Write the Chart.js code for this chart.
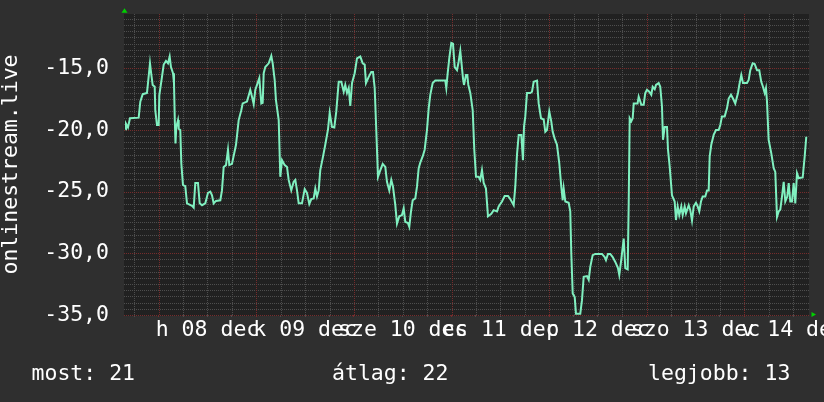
<!DOCTYPE html>
<html><head><meta charset="utf-8">
<script src="https://cdn.jsdelivr.net/npm/chart.js@4"></script>
<style>html,body{margin:0;padding:0;background:#2f2f2f;overflow:hidden}canvas{display:block}</style>
</head><body>
<canvas id="c" width="824" height="402"></canvas>
<script>
// hours relative to Mon 08 Dec 00:00
const hours = [
-8.21,-8.04,-7.55,-7.06,-4.92,-4.52,-3.93,-2.88,-2.63,-2.14,-1.82,-1.48,-0.98,-0.84,-0.42,0,0.15,0.81,1.23,1.79,2.29,2.70,3.02,3.52,3.76,3.96,4.13,4.33,4.75,4.92,5.31,5.56,5.97,6.54,6.96,8.19,8.61,9.00,9.66,10.08,10.65,11.46,12.12,12.69,13.11,13.52,14.09,15.15,15.56,15.98,16.55,17.04,17.36,18.02,19.01,19.67,20.31,20.65,21.71,22.13,22.52,22.94,23.36,23.75,
24.42,24.74,25.23,25.57,25.82,26.21,27.05,27.69,28.03,28.52,28.84,29.51,29.90,30.32,30.98,31.55,31.96,32.60,33.19,33.59,34.01,34.42,35.23,35.90,36.46,37.03,37.52,38.11,38.51,38.92,39.34,39.73,40.32,40.96,41.63,42.05,42.61,43.18,43.67,44.26,44.90,45.49,45.88,46.30,46.72,47.11,47.53,
48.19,48.76,49.57,50.16,50.65,50.97,51.64,52.27,52.69,53.11,53.50,53.92,54.34,55.08,55.72,56.13,56.70,57.19,57.61,58.18,58.59,59.16,59.82,60.24,60.63,61.30,61.62,62.04,62.45,63.09,63.51,63.93,64.32,64.91,65.40,65.97,66.39,66.78,67.37,68.01,70.47,70.72,71.06,71.45,
71.95,72.36,72.78,73.35,73.76,74.16,74.85,75.07,75.56,75.88,76.13,76.62,77.21,77.60,78.02,78.68,79.07,79.49,79.91,80.47,80.97,81.78,82.37,83.18,83.60,84.41,85.07,85.89,86.45,87.29,87.68,88.10,88.52,89.16,89.57,89.82,90.14,90.56,91.37,91.79,92.21,93.02,93.43,94.00,94.66,95.06,95.47,
96.04,96.53,96.88,97.37,97.93,98.50,98.99,99.34,99.58,99.98,100.81,101.20,101.45,101.80,102.29,102.61,103.66,104.08,104.50,105.31,105.73,106.12,106.71,107.35,109.00,109.66,109.98,110.47,111.04,111.63,112.27,112.93,113.25,113.75,114.34,114.73,115.32,115.57,115.81,116.20,116.55,116.80,117.75,118.02,118.66,119.25,
119.64,120.06,120.63,121.12,121.46,121.96,122.28,122.94,123.33,123.75,124.00,124.42,124.98,125.23,125.64,126.21,126.87,127.19,127.61,128.00,128.50,128.84,129.33,129.65,130.32,130.71,131.13,131.55,132.11,132.53,132.92,133.34,133.76,134.40,134.82,135.23,135.48,135.87,136.46,137.03,137.69,138.09,138.50,139.17,139.73,140.15,140.72,141.21,141.77,142.44,142.76,143.25,
143.67,144.65,145.07,145.46,146.05,146.54,147.11,147.67,148.16,148.58,149.00,149.32,149.57,149.98,150.63,151.22,151.61,152.03,152.45,152.84,153.26,153.68,154.07,154.56,154.91,155.30,155.72,156.13,156.53,156.95,157.36,158.35,158.84,159.23
];
const values = [
-19.95,-19.5,-19.8,-19.05,-19.0,-17.7,-17.1,-17.0,-16.2,-14.6,-15.5,-16.35,-16.5,-18.4,-19.6,-19.6,-17.2,-15.7,-14.7,-14.4,-14.6,-14.05,-14.9,-15.4,-16.2,-19.2,-21.1,-19.75,-19.2,-19.9,-20.0,-22.7,-24.45,-24.55,-25.95,-26.15,-26.3,-24.3,-24.3,-25.95,-26.1,-25.95,-25.1,-25.0,-25.3,-25.95,-25.75,-25.7,-24.9,-23.0,-22.85,-21.6,-22.85,-22.75,-21.2,-19.2,-18.4,-17.85,-17.7,-17.2,-16.75,-17.3,-17.9,-16.75,
-16.1,-15.8,-17.85,-17.8,-15.4,-14.9,-14.6,-14.0,-14.6,-15.95,-17.6,-19.2,-23.8,-22.45,-22.85,-23.0,-24.05,-24.9,-24.2,-24.05,-24.9,-25.95,-25.95,-24.8,-25.1,-26.0,-25.6,-25.55,-24.75,-25.4,-24.9,-23.25,-22.3,-21.2,-19.95,-18.6,-19.75,-19.8,-18.5,-16.1,-16.1,-16.9,-16.35,-17.0,-16.6,-18.05,-16.2,
-15.4,-14.2,-14.05,-14.6,-14.7,-16.2,-15.7,-15.3,-15.3,-16.6,-20.0,-23.8,-23.4,-22.75,-23.0,-24.2,-24.9,-24.05,-24.6,-26.1,-27.6,-27.0,-26.9,-26.35,-27.45,-27.55,-27.85,-26.6,-25.7,-25.55,-24.6,-23.1,-22.65,-22.15,-21.6,-20.0,-18.25,-17.15,-16.2,-16.0,-16.0,-16.6,-15.4,-14.2,
-12.95,-13.0,-14.9,-15.15,-14.45,-13.6,-15.9,-16.35,-15.55,-15.55,-16.35,-17.0,-18.4,-21.6,-23.8,-23.8,-24.05,-23.25,-24.3,-24.75,-27.0,-26.8,-26.5,-26.6,-26.2,-25.8,-25.35,-25.35,-25.6,-26.1,-24.6,-22.0,-20.4,-20.4,-22.45,-19.75,-18.9,-17.0,-17.0,-16.9,-16.1,-16.0,-17.85,-19.05,-19.15,-20.15,-20.0,
-18.5,-19.3,-20.15,-20.7,-21.2,-22.7,-24.6,-25.7,-24.75,-25.8,-25.9,-26.6,-30.0,-33.25,-33.55,-34.9,-34.9,-33.8,-31.9,-31.85,-32.15,-31.1,-30.15,-30.05,-30.05,-30.3,-30.55,-30.05,-30.05,-30.3,-30.7,-31.2,-31.75,-30.5,-28.8,-31.2,-31.3,-25.95,-19.05,-19.3,-19.05,-17.85,-17.85,-17.3,-17.95,-17.95,
-17.0,-16.75,-16.9,-17.15,-16.5,-16.7,-16.35,-16.2,-16.5,-18.1,-20.8,-19.75,-19.75,-21.6,-22.95,-25.3,-25.8,-27.3,-26.2,-26.9,-26.2,-26.9,-26.2,-26.75,-26.1,-26.5,-27.35,-26.2,-25.9,-26.2,-26.6,-25.8,-25.4,-25.4,-24.9,-24.9,-22.15,-21.2,-20.4,-20.0,-20.0,-19.6,-18.9,-18.9,-18.25,-17.45,-17.15,-17.45,-17.85,-17.0,-16.35,-15.55,
-16.2,-16.2,-15.95,-15.15,-14.6,-14.65,-15.15,-15.15,-16.1,-16.5,-17.0,-16.6,-17.7,-20.8,-21.9,-23.1,-23.4,-27.05,-26.6,-26.45,-25.4,-24.2,-25.8,-25.4,-24.3,-25.8,-25.8,-24.3,-25.95,-23.5,-23.9,-23.85,-22.15,-20.55
];
const dayLabels = ['h 08 dec','k 09 dec','sze 10 dec','cs 11 dec','p 12 dec','szo 13 dec','v 14 dec'];
const yLabelValues = [-35,-30,-25,-20,-15];
const yAxisTitle = 'onlinestream.live';
const legendNames = ['most','átlag','legjobb'];
const legendValues = [21,22,13];

const FONT = '"DejaVu Sans Mono", monospace';
const FS = 21.5;
Chart.defaults.font.family = FONT;

const yTicks = []; for (let i = 0; i <= 48; i++) yTicks.push(-35 + i * 0.5);
const xTicks = []; for (let h = -6; h <= 156; h += 6) xTicks.push(h);
const MAJOR = 'rgb(118,44,44)';
const MINOR = 'rgb(78,78,78)';
const isDay = v => (((v % 24) + 24) % 24) === 0;

const deco = {
  id: 'deco',
  beforeDraw(chart) {
    const {ctx, chartArea: a} = chart;
    ctx.save();
    ctx.fillStyle = '#2f2f2f';
    ctx.fillRect(0, 0, chart.width, chart.height);
    ctx.fillStyle = '#212121';
    ctx.fillRect(a.left, a.top, a.right - a.left, a.bottom - a.top + 1);
    ctx.restore();
  },
  beforeDatasetsDraw(chart) {
    const {ctx, chartArea: a, scales: {x, y}} = chart;
    ctx.save();
    ctx.lineWidth = 1;
    ctx.setLineDash([1, 1]);
    // minor first, then major on top
    [false, true].forEach(major => {
      y.ticks.forEach(t => {
        if (yLabelValues.includes(t.value) !== major) return;
        const py = Math.round(y.getPixelForValue(t.value)) + 0.5;
        ctx.strokeStyle = major ? MAJOR : MINOR;
        ctx.beginPath(); ctx.moveTo(a.left, py); ctx.lineTo(a.right, py); ctx.stroke();
      });
      x.ticks.forEach(t => {
        if (isDay(t.value) !== major) return;
        const px = Math.round(x.getPixelForValue(t.value)) + 0.5;
        ctx.strokeStyle = major ? MAJOR : MINOR;
        ctx.beginPath(); ctx.moveTo(px, a.top); ctx.lineTo(px, a.bottom); ctx.stroke();
      });
    });
    ctx.restore();
  },
  afterDraw(chart) {
    const {ctx, chartArea: a} = chart;
    ctx.save();
    ctx.fillStyle = '#00d000';
    ctx.beginPath();
    ctx.moveTo(a.left - 2.5, a.top - 1.3);
    ctx.lineTo(a.left + 3.5, a.top - 1.3);
    ctx.lineTo(a.left + 0.5, a.top - 5.8);
    ctx.closePath(); ctx.fill();
    ctx.beginPath();
    ctx.moveTo(a.right + 2.5, a.bottom - 3);
    ctx.lineTo(a.right + 2.5, a.bottom + 2);
    ctx.lineTo(a.right + 7, a.bottom - 0.5);
    ctx.closePath(); ctx.fill();
    ctx.fillStyle = '#ffffff';
    ctx.font = FS + 'px ' + FONT;
    ctx.textBaseline = 'alphabetic';
    ctx.textAlign = 'left';
    const xs = [31.5, 332, 648];
    legendNames.forEach((n, i) => ctx.fillText(n + ': ' + legendValues[i], xs[i], 380));
    ctx.restore();
  }
};

new Chart(document.getElementById('c'), {
  type: 'line',
  data: { datasets: [{
    data: hours.map((h, i) => ({x: h, y: values[i]})),
    borderColor: '#80f0c0', borderWidth: 2, pointRadius: 0, tension: 0, fill: false
  }]},
  options: {
    responsive: false, animation: false, devicePixelRatio: 1,
    layout: { padding: { left: 0, top: 14, right: 15, bottom: 0 } },
    plugins: { legend: { display: false }, tooltip: { enabled: false } },
    scales: {
      x: {
        type: 'linear', min: -8.53, max: 159.9,
        afterBuildTicks(s) { s.ticks = xTicks.map(v => ({value: v})); },
        afterFit(s) { s.height = 87; s.paddingLeft = 0; s.paddingRight = 0; },
        grid: { drawOnChartArea: false, drawTicks: true, tickLength: 2,
                tickColor: c => (c.tick && isDay(c.tick.value)) ? MAJOR : MINOR },
        border: { display: false },
        ticks: { autoSkip: false, maxRotation: 0, minRotation: 0, padding: 1, color: '#ffffff',
                 font: { size: FS },
                 callback: v => ((((v % 24) + 24) % 24) === 12) ? dayLabels[Math.floor(v / 24)] : '' }
      },
      y: {
        min: -35, max: -10.6,
        afterBuildTicks(s) { s.ticks = yTicks.map(v => ({value: v})); },
        afterFit(s) { s.width = 124; s.paddingTop = 0; s.paddingBottom = 0; },
        grid: { drawOnChartArea: false, drawTicks: false },
        border: { display: false },
        ticks: { autoSkip: false, padding: 15, color: '#ffffff', font: { size: FS },
                 callback: v => yLabelValues.includes(v) ? v.toFixed(1).replace('.', ',') : '' },
        title: { display: true, text: yAxisTitle, color: '#ffffff', padding: 0,
                 font: { size: FS, lineHeight: 1.08 } }
      }
    }
  },
  plugins: [deco]
});
</script>
</body></html>
